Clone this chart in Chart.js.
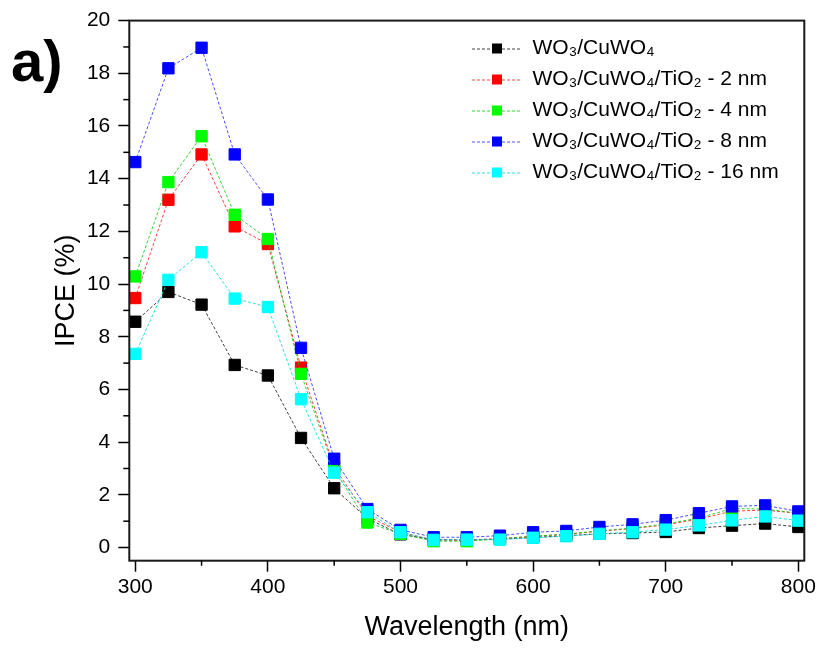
<!DOCTYPE html>
<html>
<head>
<meta charset="utf-8">
<script src="https://cdn.jsdelivr.net/npm/chart.js@4"></script>
<style>
  html, body { margin: 0; padding: 0; background: #fff; }
</style>
</head>
<body>
<canvas id="myChart" width="819" height="648"></canvas>
<script>
// wavelength (nm)
var wavelengths = [300, 325, 350, 375, 400, 425, 450, 475, 500, 525, 550, 575, 600, 625, 650, 675, 700, 725, 750, 775, 800];

// IPCE (%) per sample
var wo3 = [8.57, 9.70, 9.22, 6.93, 6.53, 4.16, 2.25, 1.10, 0.50, 0.30, 0.28, 0.32, 0.38, 0.45, 0.52, 0.55, 0.59, 0.74, 0.83, 0.91, 0.78];
var tio2_2 = [9.47, 13.20, 14.92, 12.19, 11.52, 6.83, 3.05, 1.20, 0.58, 0.28, 0.28, 0.34, 0.42, 0.50, 0.62, 0.72, 0.86, 1.08, 1.38, 1.42, 1.30];
var tio2_4 = [10.29, 13.87, 15.61, 12.63, 11.71, 6.59, 2.97, 0.95, 0.52, 0.24, 0.24, 0.33, 0.43, 0.51, 0.63, 0.74, 0.89, 1.12, 1.48, 1.46, 1.30];
var tio2_8 = [14.63, 18.19, 18.97, 14.92, 13.21, 7.58, 3.37, 1.46, 0.67, 0.39, 0.39, 0.45, 0.58, 0.63, 0.78, 0.88, 1.04, 1.30, 1.56, 1.60, 1.37];
var tio2_16 = [7.35, 10.16, 11.21, 9.45, 9.13, 5.63, 2.84, 1.34, 0.58, 0.29, 0.30, 0.30, 0.37, 0.43, 0.52, 0.58, 0.68, 0.84, 1.03, 1.18, 1.02];

var labels = ["WO₃/CuWO₄", "WO₃/CuWO₄/TiO₂ - 2 nm", "WO₃/CuWO₄/TiO₂ - 4 nm", "WO₃/CuWO₄/TiO₂ - 8 nm", "WO₃/CuWO₄/TiO₂ - 16 nm"];
var colors = ["#000000", "#ff0000", "#00ff00", "#0000ff", "#00ffff"];
var lineColors = ["rgba(0,0,0,0.75)", "rgba(255,0,0,0.75)", "rgba(0,200,0,0.8)", "rgba(0,0,255,0.7)", "rgba(0,220,220,0.85)"];
var series = [wo3, tio2_2, tio2_4, tio2_8, tio2_16];

var yTicks = [0, 2, 4, 6, 8, 10, 12, 14, 16, 18, 20];
var xTicks = [300, 400, 500, 600, 700, 800];

var FONT = '"Liberation Sans", Arial, sans-serif';

function toPoints(arr) {
  return wavelengths.map(function (w, i) { return { x: w, y: arr[i] }; });
}

// little legend symbol: dashed line with a square in the middle
function legendIcon(i) {
  var c = document.createElement('canvas');
  c.width = 50; c.height = 12;
  var g = c.getContext('2d');
  g.strokeStyle = lineColors[i];
  g.lineWidth = 1;
  g.setLineDash([3, 2]);
  g.beginPath();
  g.moveTo(0, 6.5); g.lineTo(50, 6.5);
  g.stroke();
  g.fillStyle = colors[i];
  g.fillRect(20, 1, 10, 10);
  return c;
}

var datasets = series.map(function (s, i) {
  return {
    label: labels[i],
    data: toPoints(s),
    borderColor: lineColors[i],
    borderWidth: 1,
    borderDash: [3, 2],
    pointStyle: 'rect',
    pointRadius: 8,
    pointBackgroundColor: colors[i],
    pointBorderColor: colors[i],
    pointBorderWidth: 1,
    fill: false,
    order: 5 - i
  };
});

var framePlugin = {
  id: 'frame',
  afterDatasetsDraw: function (chart) {
    var a = chart.chartArea, ctx = chart.ctx;
    ctx.save();
    ctx.strokeStyle = '#1a1a1a';
    ctx.lineWidth = 2;
    ctx.strokeRect(a.left, a.top, a.right - a.left, a.bottom - a.top);
    ctx.restore();
  },
  afterDraw: function (chart) {
    var ctx = chart.ctx, a = chart.chartArea;
    ctx.save();
    ctx.strokeStyle = '#000';
    ctx.lineWidth = 1.5;
    // minor ticks
    chart.scales.x.ticks.forEach(function (t) {
      if (xTicks.indexOf(t.value) < 0) {
        var px = chart.scales.x.getPixelForValue(t.value);
        ctx.beginPath(); ctx.moveTo(px, a.bottom); ctx.lineTo(px, a.bottom + 5); ctx.stroke();
      }
    });
    chart.scales.y.ticks.forEach(function (t) {
      if (yTicks.indexOf(t.value) < 0) {
        var py = chart.scales.y.getPixelForValue(t.value);
        ctx.beginPath(); ctx.moveTo(a.left, py); ctx.lineTo(a.left - 6, py); ctx.stroke();
      }
    });
    // panel letter
    ctx.fillStyle = '#000';
    ctx.font = 'bold 58px ' + FONT;
    ctx.textBaseline = 'alphabetic';
    ctx.fillText('a)', 11, 81);
    ctx.restore();
  },
  afterLayout: function (chart) {
    var lg = chart.legend;
    var w = lg.width, h = lg.height;
    lg.left = 462; lg.top = 28;
    lg.right = lg.left + w; lg.bottom = lg.top + h;
  }
};

new Chart("myChart", {
  type: "line",
  data: { datasets: datasets },
  plugins: [framePlugin],
  options: {
    responsive: false,
    animation: false,
    devicePixelRatio: 1,
    events: [],
    layout: { padding: { top: 18, right: 14.7, left: 0, bottom: 0 } },
    plugins: {
      tooltip: { enabled: false },
      legend: {
        position: 'chartArea',
        align: 'start',
        reverse: true,
        labels: {
          usePointStyle: true,
          pointStyleWidth: 50,
          padding: 10,
          color: '#000',
          font: { family: FONT, size: 21 },
          generateLabels: function (chart) {
            var items = Chart.defaults.plugins.legend.labels.generateLabels(chart);
            items.forEach(function (it) { it.pointStyle = legendIcon(it.datasetIndex); });
            return items;
          }
        }
      }
    },
    scales: {
      x: {
        type: 'linear',
        min: 295.5,
        max: 804.5,
        afterFit: function (s) { s.height = 87.3; },
        border: { display: false },
        grid: {
          drawOnChartArea: false,
          tickLength: 11,
          tickWidth: 1.5,
          tickColor: function (c) { return c.tick && xTicks.indexOf(c.tick.value) >= 0 ? '#000' : 'rgba(0,0,0,0)'; }
        },
        ticks: {
          stepSize: 50,
          includeBounds: false,
          autoSkip: false,
          maxRotation: 0,
          padding: 3,
          color: '#000',
          font: { family: FONT, size: 21 },
          callback: function (v) { return xTicks.indexOf(v) >= 0 ? v : ''; }
        },
        title: {
          display: true,
          text: 'Wavelength (nm)',
          color: '#000',
          font: { family: FONT, size: 27 },
          padding: { top: 0, bottom: 4 }
        }
      },
      y: {
        min: -0.5,
        max: 20,
        afterFit: function (s) { s.width = 129.3; },
        border: { display: false },
        grid: {
          drawOnChartArea: false,
          tickLength: 11,
          tickWidth: 1.5,
          tickColor: function (c) { return c.tick && yTicks.indexOf(c.tick.value) >= 0 ? '#000' : 'rgba(0,0,0,0)'; }
        },
        ticks: {
          stepSize: 1,
          includeBounds: false,
          autoSkip: false,
          padding: 8,
          color: '#000',
          font: { family: FONT, size: 21 },
          callback: function (v) { return yTicks.indexOf(v) >= 0 ? v : ''; }
        },
        title: {
          display: true,
          text: 'IPCE (%)',
          color: '#000',
          font: { family: FONT, size: 27 },
          padding: { top: 50, bottom: 0 }
        }
      }
    }
  }
});
</script>
</body>
</html>
